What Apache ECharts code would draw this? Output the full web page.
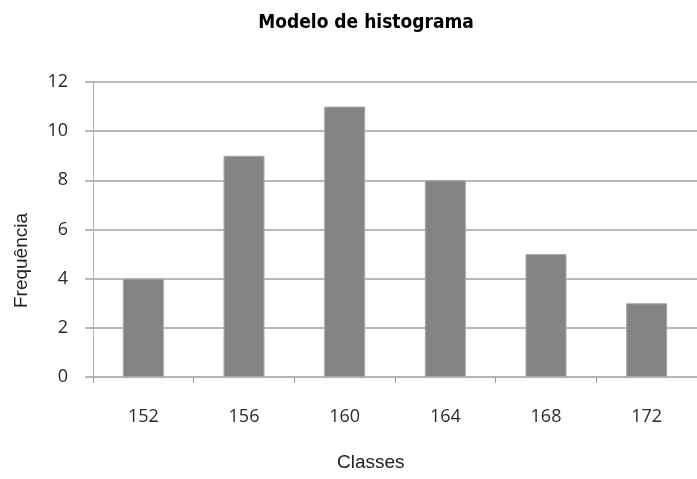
<!DOCTYPE html>
<html><head><meta charset="utf-8">
<script src="https://cdn.jsdelivr.net/npm/echarts@6/dist/echarts.min.js"></script>
<style>html,body{margin:0;padding:0;background:#fff}#c{width:697px;height:479px}</style>
</head><body><div id="c"></div>
<script>
const categories = ['152', '156', '160', '164', '168', '172'];
const frequencies = [4, 9, 11, 8, 5, 3];
const yTicks = [0, 2, 4, 6, 8, 10, 12];

const chart = echarts.init(document.getElementById('c'));
chart.setOption({
  animation: false,
  backgroundColor: '#ffffff',
  title: {
    text: 'Modelo de histograma',
    left: 361, top: 9, textAlign: 'center',
    textStyle: { fontFamily: '"DejaVu Sans Condensed", "DejaVu Sans"', fontWeight: 'bold', fontSize: 19, color: '#000' }
  },
  grid: { left: 93, right: -5, top: 82, bottom: 102, containLabel: false },
  xAxis: {
    type: 'category', data: categories,
    axisLine: { show: true, lineStyle: { color: '#b0b0b0', width: 1 } },
    axisTick: { show: true, alignWithLabel: false, length: 6, lineStyle: { color: '#999' } },
    axisLabel: { margin: 31, fontFamily: 'Open Sans', fontSize: 18, color: '#2a2a2a' }
  },
  yAxis: {
    type: 'value', min: yTicks[0], max: yTicks[yTicks.length - 1], interval: 2,
    axisLine: { show: true, lineStyle: { color: '#b0b0b0', width: 1 } },
    axisTick: { show: true, length: 8, lineStyle: { color: '#b8b8b8', width: 2 } },
    splitLine: { show: true, lineStyle: { color: '#b8b8b8', width: 2 } },
    axisLabel: { margin: 25, fontFamily: 'Open Sans', fontSize: 18, color: '#2a2a2a' }
  },
  graphic: [
    { type: 'text', left: 12, top: 213, rotation: Math.PI / 2,
      style: { text: 'Frequência', font: '19px "Liberation Sans"', fill: '#222' } },
    { type: 'text', left: 337, top: 453,
      style: { text: 'Classes', font: '19px "Liberation Sans"', fill: '#222' } }
  ],
  series: [{
    type: 'bar', data: frequencies, barWidth: 41,
    itemStyle: { color: '#848484', borderColor: '#a8a8a8', borderWidth: 1 }
  }]
});
</script></body></html>
